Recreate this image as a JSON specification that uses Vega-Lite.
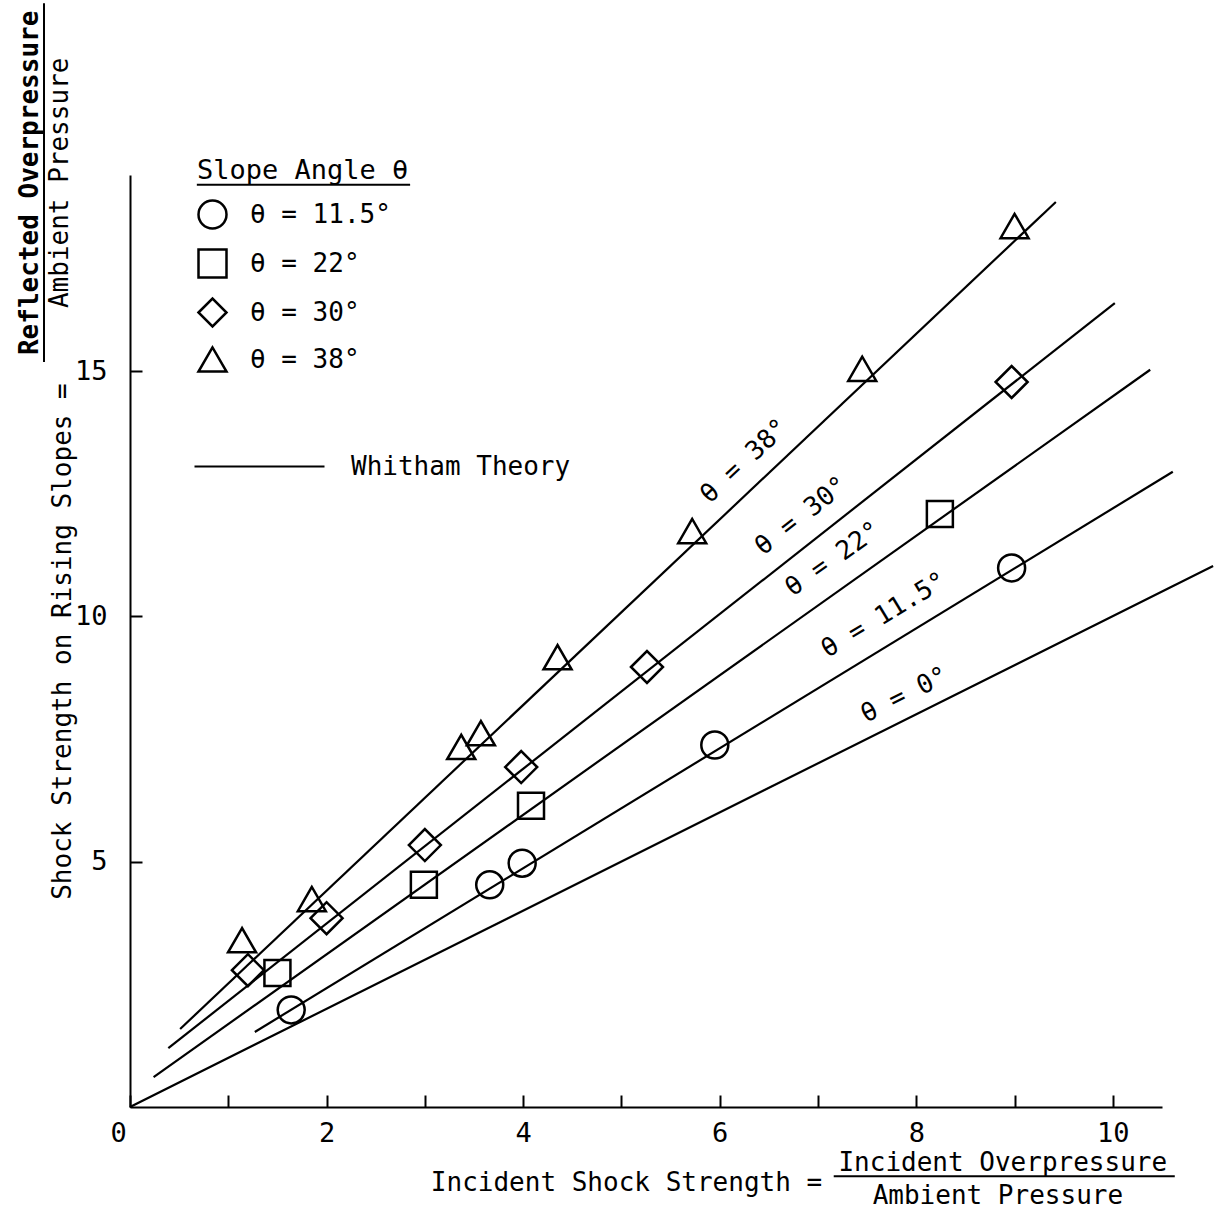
{
  "$schema": "https://vega.github.io/schema/vega-lite/v6.json",
  "width": 1032,
  "height": 932,
  "autosize": {"type": "none"},
  "padding": {"left": 130, "top": 175, "right": 52, "bottom": 106},
  "background": "white",
  "config": {
    "font": "DejaVu Sans Mono",
    "view": {"stroke": null},
    "axis": {
      "grid": false,
      "domainColor": "black",
      "domainWidth": 2,
      "tickColor": "black",
      "tickWidth": 2,
      "tickSize": -12,
      "labelColor": "black",
      "labelFontSize": 27,
      "labelFont": "DejaVu Sans Mono",
      "titleColor": "black",
      "titleFontSize": 26,
      "titleFont": "DejaVu Sans Mono",
      "titleFontWeight": "normal"
    },
    "legend": {
      "labelColor": "black",
      "titleColor": "black",
      "labelFont": "DejaVu Sans Mono",
      "titleFont": "DejaVu Sans Mono",
      "labelLimit": 400,
      "titleLimit": 400
    }
  },
  "datasets": {
    "points": [
      {"series": "θ = 11.5°", "x": 1.64, "y": 1.98},
      {"series": "θ = 11.5°", "x": 3.66, "y": 4.53},
      {"series": "θ = 11.5°", "x": 3.99, "y": 4.97},
      {"series": "θ = 11.5°", "x": 5.95, "y": 7.38},
      {"series": "θ = 11.5°", "x": 8.97, "y": 10.99},
      {"series": "θ = 22°", "x": 1.5, "y": 2.73},
      {"series": "θ = 22°", "x": 2.99, "y": 4.53},
      {"series": "θ = 22°", "x": 4.08, "y": 6.14},
      {"series": "θ = 22°", "x": 8.24, "y": 12.09},
      {"series": "θ = 30°", "x": 1.2, "y": 2.79},
      {"series": "θ = 30°", "x": 2.0, "y": 3.85},
      {"series": "θ = 30°", "x": 3.0, "y": 5.34},
      {"series": "θ = 30°", "x": 3.98, "y": 6.93},
      {"series": "θ = 30°", "x": 5.26, "y": 8.97},
      {"series": "θ = 30°", "x": 8.97, "y": 14.78},
      {"series": "θ = 38°", "x": 1.14, "y": 3.4},
      {"series": "θ = 38°", "x": 1.85, "y": 4.24},
      {"series": "θ = 38°", "x": 3.37, "y": 7.34},
      {"series": "θ = 38°", "x": 3.57, "y": 7.62},
      {"series": "θ = 38°", "x": 4.35, "y": 9.17},
      {"series": "θ = 38°", "x": 5.72, "y": 11.74},
      {"series": "θ = 38°", "x": 7.45, "y": 15.05},
      {"series": "θ = 38°", "x": 9.0, "y": 17.96}
    ],
    "lines": [
      {"series": "0", "x": 0, "y": 0},
      {"series": "0", "x": 11.02, "y": 11.03},
      {"series": "11.5", "x": 1.27, "y": 1.53},
      {"series": "11.5", "x": 10.61, "y": 12.95},
      {"series": "22", "x": 0.24, "y": 0.61},
      {"series": "22", "x": 10.38, "y": 15.03},
      {"series": "30", "x": 0.39, "y": 1.2},
      {"series": "30", "x": 10.02, "y": 16.39},
      {"series": "38", "x": 0.51, "y": 1.59},
      {"series": "38", "x": 9.42, "y": 18.45}
    ],
    "lineLabels": [
      {"series": "38", "label": "θ = 38°", "x": 6.25, "y": 13.17},
      {"series": "30", "label": "θ =  30°", "x": 6.83, "y": 12.05},
      {"series": "22", "label": "θ = 22°", "x": 7.15, "y": 11.17},
      {"series": "11.5", "label": "θ = 11.5°", "x": 7.67, "y": 10.03},
      {"series": "0", "label": "θ =  0°", "x": 7.88, "y": 8.4}
    ],
    "fraction": [
      {"part": "xnum", "text": "Incident Overpressure", "x": 8.88, "y": -1.14},
      {"part": "xden", "text": "Ambient Pressure", "x": 8.83, "y": -1.82},
      {"part": "ynum", "text": "Reflected Overpressure", "x": -1.02, "y": 18.84},
      {"part": "yden", "text": "Ambient Pressure", "x": -0.71, "y": 18.84}
    ],
    "bars": [
      {"x": 7.16, "x2": 10.63, "y": -1.41, "y2": -1.41},
      {"x": -0.875, "x2": -0.875, "y": 15.19, "y2": 22.5},
      {"x": 0.68, "x2": 2.85, "y": 18.8, "y2": 18.8}
    ]
  },
  "encoding": {
    "x": {
      "field": "x",
      "type": "quantitative",
      "scale": {"domain": [0, 10.5], "nice": false, "zero": false},
      "axis": {
        "values": [0, 1, 2, 3, 4, 5, 6, 7, 8, 9, 10],
        "labelExpr": "datum.value % 2 === 0 ? datum.label : ''",
        "labelPadding": 25,
        "labelOffset": {"expr": "datum.value === 0 ? -12 : 0"},
        "labelFlush": false,
        "labelOverlap": false,
        "title": "Incident Shock Strength =",
        "titleX": 496,
        "titleY": 75,
        "titleAlign": "center",
        "titleBaseline": "middle"
      }
    },
    "y": {
      "field": "y",
      "type": "quantitative",
      "scale": {"domain": [0, 19], "nice": false, "zero": false},
      "axis": {
        "values": [5, 10, 15],
        "labelPadding": 35,
        "title": "Shock Strength on Rising Slopes =",
        "titleX": -68,
        "titleY": 466,
        "titleAlign": "center",
        "titleBaseline": "middle"
      }
    }
  },
  "layer": [
    {
      "data": {"name": "lines"},
      "mark": {"type": "line", "strokeWidth": 2.2},
      "encoding": {
        "detail": {"field": "series"},
        "color": {
          "datum": "Whitham Theory",
          "type": "nominal",
          "scale": {"range": ["black"]},
          "legend": {
            "title": null,
            "orient": "none",
            "legendX": 63,
            "legendY": 225,
            "symbolType": "stroke",
            "symbolSize": 16900,
            "symbolStrokeWidth": 2.2,
            "labelFontSize": 26,
            "labelOffset": 25,
            "padding": 0
          }
        }
      }
    },
    {
      "data": {"name": "points"},
      "transform": [{"filter": "datum.series === 'θ = 11.5°'"}],
      "mark": {"type": "point", "filled": false, "color": "black", "opacity": 1, "strokeWidth": 2.5, "size": 729},
      "encoding": {
        "shape": {
          "field": "series",
          "type": "nominal",
          "scale": {"domain": ["θ = 11.5°", "θ = 22°", "θ = 30°", "θ = 38°"], "range": ["circle", "square", "diamond", "triangle-up"]},
          "legend": {
            "title": "Slope Angle θ",
            "orient": "none",
            "legendX": 67,
            "legendY": -17,
            "titleFontSize": 27,
            "titleFontWeight": "normal",
            "titlePadding": 14,
            "labelFontSize": 26,
            "symbolSize": 784,
            "symbolStrokeWidth": 2.5,
            "symbolStrokeColor": "black",
            "rowPadding": 10,
            "labelOffset": 22,
            "padding": 0
          }
        }
      }
    },
    {
      "data": {"name": "points"},
      "transform": [{"filter": "datum.series === 'θ = 22°'"}],
      "mark": {"type": "point", "filled": false, "color": "black", "opacity": 1, "strokeWidth": 2.5, "size": 676},
      "encoding": {"shape": {"field": "series", "type": "nominal"}}
    },
    {
      "data": {"name": "points"},
      "transform": [{"filter": "datum.series === 'θ = 30°'"}],
      "mark": {"type": "point", "filled": false, "color": "black", "opacity": 1, "strokeWidth": 2.5, "size": 1024},
      "encoding": {"shape": {"field": "series", "type": "nominal"}}
    },
    {
      "data": {"name": "points"},
      "transform": [{"filter": "datum.series === 'θ = 38°'"}],
      "mark": {"type": "point", "filled": false, "color": "black", "opacity": 1, "strokeWidth": 2.5, "size": 784},
      "encoding": {"shape": {"field": "series", "type": "nominal"}}
    },
    {
      "data": {"name": "lineLabels"},
      "transform": [{"filter": "datum.series === '38'"}],
      "mark": {"type": "text", "fontSize": 26, "angle": -43, "color": "black", "align": "center", "baseline": "middle"},
      "encoding": {"text": {"field": "label"}}
    },
    {
      "data": {"name": "lineLabels"},
      "transform": [{"filter": "datum.series === '30'"}],
      "mark": {"type": "text", "fontSize": 26, "angle": -38, "color": "black", "align": "center", "baseline": "middle"},
      "encoding": {"text": {"field": "label"}}
    },
    {
      "data": {"name": "lineLabels"},
      "transform": [{"filter": "datum.series === '22'"}],
      "mark": {"type": "text", "fontSize": 26, "angle": -35, "color": "black", "align": "center", "baseline": "middle"},
      "encoding": {"text": {"field": "label"}}
    },
    {
      "data": {"name": "lineLabels"},
      "transform": [{"filter": "datum.series === '11.5'"}],
      "mark": {"type": "text", "fontSize": 26, "angle": -31, "color": "black", "align": "center", "baseline": "middle"},
      "encoding": {"text": {"field": "label"}}
    },
    {
      "data": {"name": "lineLabels"},
      "transform": [{"filter": "datum.series === '0'"}],
      "mark": {"type": "text", "fontSize": 26, "angle": -26.5, "color": "black", "align": "center", "baseline": "middle"},
      "encoding": {"text": {"field": "label"}}
    },
    {
      "data": {"name": "fraction"},
      "transform": [{"filter": "datum.part === 'xnum' || datum.part === 'xden'"}],
      "mark": {"type": "text", "fontSize": 26, "color": "black", "align": "center", "baseline": "middle"},
      "encoding": {"text": {"field": "text"}}
    },
    {
      "data": {"name": "fraction"},
      "transform": [{"filter": "datum.part === 'ynum'"}],
      "mark": {"type": "text", "fontSize": 26, "fontWeight": "bold", "angle": -90, "color": "black", "align": "center", "baseline": "middle"},
      "encoding": {"text": {"field": "text"}}
    },
    {
      "data": {"name": "fraction"},
      "transform": [{"filter": "datum.part === 'yden'"}],
      "mark": {"type": "text", "fontSize": 26, "angle": -90, "color": "black", "align": "center", "baseline": "middle"},
      "encoding": {"text": {"field": "text"}}
    },
    {
      "data": {"name": "bars"},
      "mark": {"type": "rule", "color": "black", "strokeWidth": 2},
      "encoding": {"x2": {"field": "x2"}, "y2": {"field": "y2"}}
    }
  ]
}
